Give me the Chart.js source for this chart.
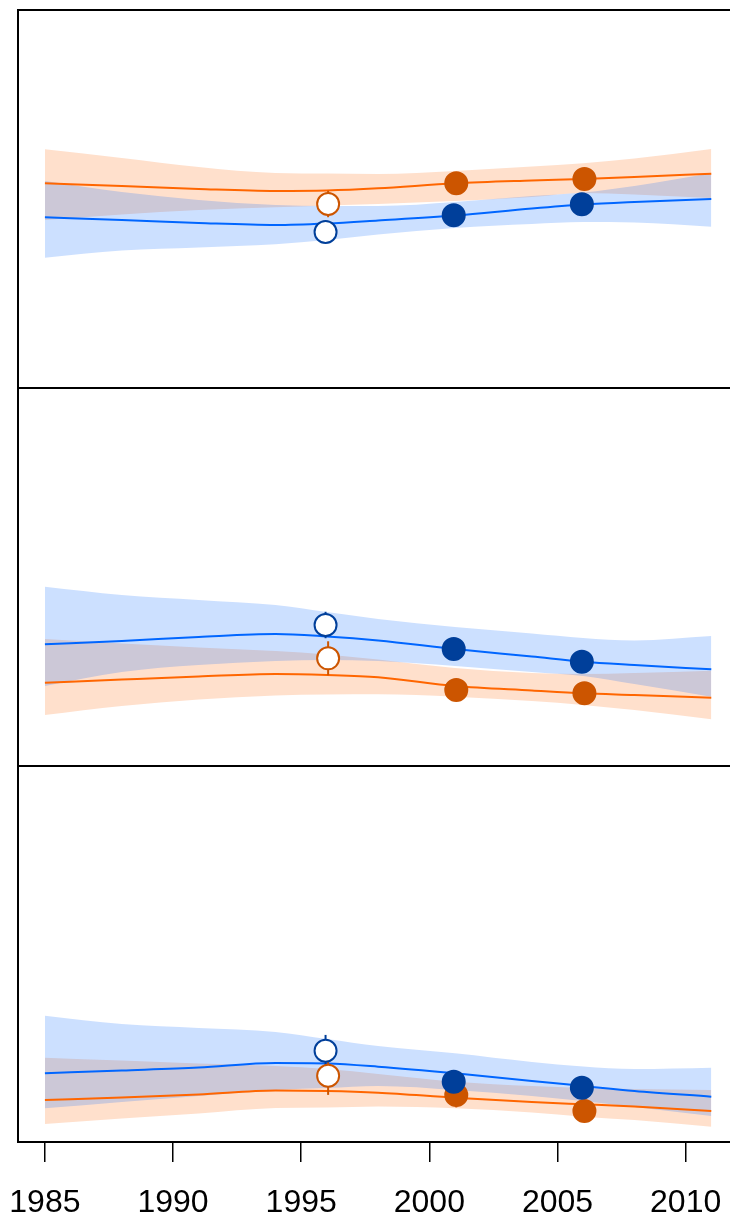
<!DOCTYPE html>
<html>
<head>
<meta charset="utf-8">
<script src="https://cdn.jsdelivr.net/npm/chart.js@4.4.1/dist/chart.umd.min.js"></script>
<style>
  html, body { margin: 0; padding: 0; background: #fff; }
</style>
</head>
<body>
<canvas id="grafico" width="730" height="1218"></canvas>
<script>
// Años de las curvas ajustadas
const years = [1985, 1988, 1991, 1994, 1996, 1998, 2001, 2004, 2006, 2008, 2011];
const tickYears = [1985, 1990, 1995, 2000, 2005, 2010];
// Años de las observaciones (azul y naranja ligeramente desplazados)
const blueYears = [1995.95, 2000.95, 2005.95];
const orangeYears = [1996.05, 2001.05, 2006.05];

// Panel superior
const p1BlueHi = [54.76, 51.85, 49.74, 48.41, 48.15, 48.15, 49.21, 50.79, 51.72, 53.44, 56.80];
const p1BlueFit = [45.16, 44.44, 43.65, 43.12, 43.52, 44.31, 45.63, 47.49, 48.54, 49.21, 50.00];
const p1BlueLo = [34.47, 36.38, 37.17, 38.02, 39.15, 40.61, 42.33, 43.39, 43.92, 43.78, 42.67];
const p1OrangeHi = [63.15, 60.85, 58.47, 56.88, 56.75, 56.61, 57.41, 58.60, 59.44, 60.71, 63.23];
const p1OrangeFit = [54.15, 53.44, 52.65, 52.12, 52.25, 52.83, 54.15, 54.89, 55.29, 55.82, 56.69];
const p1OrangeLo = [44.44, 45.90, 47.09, 47.80, 48.28, 48.68, 49.47, 50.53, 51.59, 51.19, 50.26];
const p1BlueObs = [41.27, 45.69, 48.60];
const p1OrangeObs = [48.68, 54.15, 55.29];
const p1BlueErr = [2.6, 2.5, 2.5];
const p1OrangeErr = [3.5, 2.5, 2.5];

// Panel central
const p2BlueHi = [47.43, 45.24, 43.92, 42.59, 40.74, 38.89, 36.77, 35.05, 33.86, 33.20, 34.39];
const p2BlueFit = [32.20, 33.07, 34.13, 34.92, 34.26, 33.20, 30.95, 28.97, 27.59, 26.72, 25.58];
const p2BlueLo = [21.16, 24.87, 26.72, 27.78, 28.04, 27.78, 26.46, 24.87, 23.81, 21.69, 18.33];
const p2OrangeHi = [33.60, 32.41, 31.35, 30.42, 29.50, 28.17, 25.93, 24.60, 24.34, 24.60, 25.21];
const p2OrangeFit = [22.04, 22.88, 23.68, 24.34, 24.07, 23.47, 21.16, 19.97, 19.23, 18.78, 18.07];
const p2OrangeLo = [13.49, 15.87, 17.59, 18.65, 18.92, 18.97, 18.33, 17.20, 16.14, 14.81, 12.35];
const p2BlueObs = [37.30, 30.95, 27.59];
const p2OrangeObs = [28.49, 20.11, 19.23];
const p2BlueErr = [3.5, 2.8, 2.8];
const p2OrangeErr = [4.5, 2.8, 2.8];

// Panel inferior
const p3BlueHi = [33.59, 31.38, 30.32, 29.26, 27.39, 25.53, 23.59, 21.28, 20.08, 19.41, 19.76];
const p3BlueFit = [18.27, 19.02, 19.81, 21.01, 20.88, 20.03, 18.27, 16.22, 14.89, 13.56, 12.05];
const p3BlueLo = [8.96, 10.64, 12.23, 13.83, 14.36, 14.89, 13.83, 12.23, 10.90, 9.31, 6.91];
const p3OrangeHi = [22.42, 21.68, 20.88, 20.21, 19.41, 18.09, 16.04, 14.89, 14.36, 14.10, 13.83];
const p3OrangeFit = [11.17, 11.84, 12.63, 13.70, 13.56, 13.11, 11.78, 10.64, 10.03, 9.44, 8.24];
const p3OrangeLo = [4.79, 6.25, 7.58, 9.04, 9.18, 9.44, 8.96, 7.85, 6.73, 5.85, 4.07];
const p3BlueObs = [24.28, 16.04, 14.44];
const p3OrangeObs = [17.63, 12.50, 8.24];
const p3BlueErr = [4.2, 2.9, 2.9];
const p3OrangeErr = [5.1, 3.3, 2.9];

const BLUE_LINE = '#0066ff', BLUE_DOT = '#003f9a', BLUE_BAND = 'rgba(0, 102, 255, 0.2)';
const ORANGE_LINE = '#ff6600', ORANGE_DOT = '#cc5500', ORANGE_BAND = 'rgba(255, 102, 0, 0.2)';

function pts(xs, ys) {
    return xs.map(function(x, i) { return {x: x, y: ys[i]}; });
}

// Banda + curva + observaciones de una serie
function serie(axis, hi, fit, lo, obsYears, obs, err, line, dot, band) {
    const ds = [];
    ds.push({ data: pts(years, hi), yAxisID: axis, fill: '+1', backgroundColor: band,
        borderColor: 'rgba(0,0,0,0)', borderWidth: 0, pointRadius: 0,
        cubicInterpolationMode: 'monotone', order: 5 });
    ds.push({ data: pts(years, lo), yAxisID: axis, fill: false,
        borderColor: 'rgba(0,0,0,0)', borderWidth: 0, pointRadius: 0,
        cubicInterpolationMode: 'monotone', order: 5 });
    ds.push({ data: pts(years, fit), yAxisID: axis, fill: false, borderColor: line,
        borderWidth: 2, pointRadius: 0, cubicInterpolationMode: 'monotone', order: 3 });
    // barras de error
    obs.forEach(function(v, i) {
        ds.push({ data: [{x: obsYears[i], y: v - err[i]}, {x: obsYears[i], y: v + err[i]}],
            yAxisID: axis, fill: false, borderColor: dot, borderWidth: 2, pointRadius: 0, order: 2 });
    });
    ds.push({ data: pts(obsYears, obs), yAxisID: axis, showLine: false, fill: false,
        pointRadius: 11, pointBorderWidth: 2, pointBorderColor: dot,
        pointBackgroundColor: obs.map(function(v, i) { return i === 0 ? '#ffffff' : dot; }),
        order: 1 });
    return ds;
}

let datasets = [];
datasets = datasets.concat(serie('y1', p1BlueHi, p1BlueFit, p1BlueLo, blueYears, p1BlueObs, p1BlueErr, BLUE_LINE, BLUE_DOT, BLUE_BAND));
datasets = datasets.concat(serie('y1', p1OrangeHi, p1OrangeFit, p1OrangeLo, orangeYears, p1OrangeObs, p1OrangeErr, ORANGE_LINE, ORANGE_DOT, ORANGE_BAND));
datasets = datasets.concat(serie('y2', p2BlueHi, p2BlueFit, p2BlueLo, blueYears, p2BlueObs, p2BlueErr, BLUE_LINE, BLUE_DOT, BLUE_BAND));
datasets = datasets.concat(serie('y2', p2OrangeHi, p2OrangeFit, p2OrangeLo, orangeYears, p2OrangeObs, p2OrangeErr, ORANGE_LINE, ORANGE_DOT, ORANGE_BAND));
datasets = datasets.concat(serie('y3', p3BlueHi, p3BlueFit, p3BlueLo, blueYears, p3BlueObs, p3BlueErr, BLUE_LINE, BLUE_DOT, BLUE_BAND));
datasets = datasets.concat(serie('y3', p3OrangeHi, p3OrangeFit, p3OrangeLo, orangeYears, p3OrangeObs, p3OrangeErr, ORANGE_LINE, ORANGE_DOT, ORANGE_BAND));

// Marcos de cada panel
const marcos = {
    id: 'marcos',
    afterDatasetsDraw: function(chart) {
        const ctx = chart.ctx, a = chart.chartArea;
        ctx.save();
        ctx.strokeStyle = '#000';
        ctx.lineWidth = 2;
        ['y1', 'y2', 'y3'].forEach(function(id) {
            const s = chart.scales[id];
            ctx.strokeRect(a.left, s.top, a.right - a.left + 20, s.bottom - s.top);
        });
        ctx.restore();
    }
};

function sinPadding(scale) {
    scale.paddingLeft = 0;
    scale.paddingRight = 0;
    scale.paddingTop = 0;
    scale.paddingBottom = 0;
}

function yPanel(peso) {
    return { display: false, min: 0, max: 100, stack: 'paneles', stackWeight: peso, afterFit: sinPadding };
}

new Chart(document.getElementById('grafico'), {
    type: 'line',
    data: { datasets: datasets },
    options: {
        responsive: false,
        devicePixelRatio: 1,
        animation: false,
        events: [],
        layout: { autoPadding: false, padding: { left: 18, top: 10, right: 0, bottom: 0 } },
        plugins: { legend: { display: false }, tooltip: { enabled: false } },
        scales: {
            x: {
                type: 'linear',
                min: 1983.95,
                max: 2011.73,
                afterBuildTicks: function(scale) {
                    scale.ticks = tickYears.map(function(v) { return {value: v}; });
                },
                afterFit: function(scale) { sinPadding(scale); scale.height = 76; },
                border: { display: false },
                grid: { display: true, drawOnChartArea: false, drawTicks: true,
                        tickLength: 20, color: '#000', lineWidth: 1.5 },
                ticks: {
                    autoSkip: false, maxRotation: 0, minRotation: 0,
                    padding: 22, color: '#000',
                    font: { family: "'Liberation Sans', Arial, sans-serif", size: 32 },
                    callback: function(v) { return String(v); }
                }
            },
            // el primer eje apilado queda abajo
            y3: yPanel(376),
            y2: yPanel(378),
            y1: yPanel(378)
        }
    },
    plugins: [marcos]
});
</script>
</body>
</html>
